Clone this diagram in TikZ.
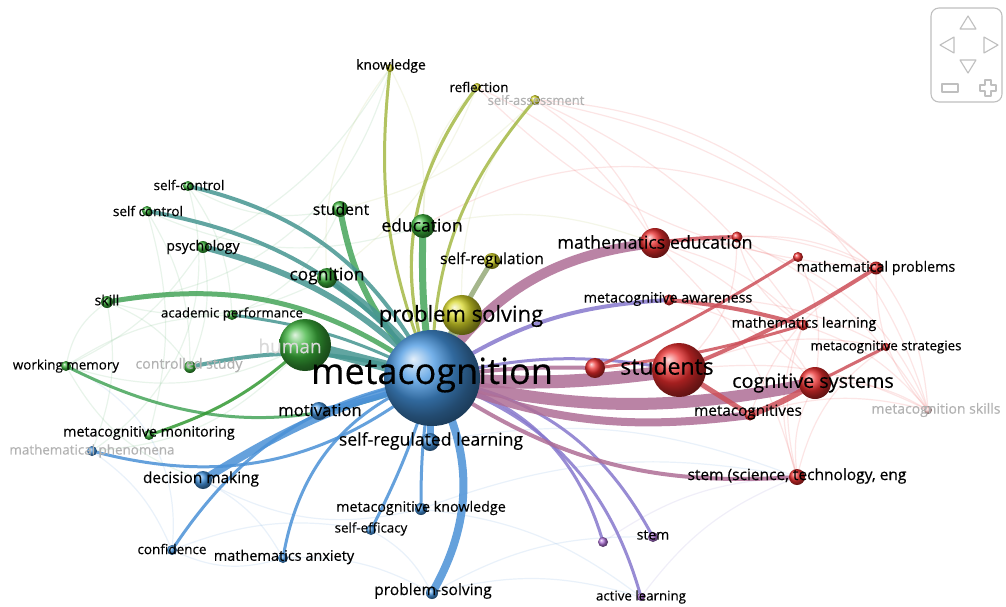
\documentclass[tikz,border=0pt]{standalone}
\usepackage{fontspec}
\setmainfont{Open Sans}[FakeBold=0.3]
\usetikzlibrary{calc}
\definecolor{cblue}{RGB}{70,150,225}
\definecolor{cgreen}{RGB}{60,180,60}
\definecolor{cyellow}{RGB}{215,215,40}
\definecolor{cred}{RGB}{235,45,45}
\definecolor{cpurple}{RGB}{175,115,215}
\definecolor{eteal}{RGB}{70,150,145}
\definecolor{egreen}{RGB}{70,165,90}
\definecolor{eolive}{RGB}{165,185,70}
\definecolor{eyb}{RGB}{150,170,120}
\definecolor{erp}{RGB}{175,110,150}
\definecolor{ebp}{RGB}{135,120,205}
\definecolor{ered}{RGB}{205,80,90}
\definecolor{eblue}{RGB}{75,145,215}
\pgfdeclarelayer{bottom}
\pgfdeclarelayer{faint}
\pgfdeclarelayer{edges}
\pgfsetlayers{bottom,faint,edges,main}
\tikzset{
  ball/.style={circle, inner sep=0pt, shading=ball, minimum size=#1},
  bb/.style={ball=#1, ball color=cblue},
  gb/.style={ball=#1, ball color=cgreen},
  yb/.style={ball=#1, ball color=cyellow},
  rb/.style={ball=#1, ball color=cred},
  pb/.style={ball=#1, ball color=cpurple},
  fb/.style={ball=#1, ball color=cred!25},
  lab/.style={inner sep=0pt, text=black, font=\fontsize{#1}{#1}\selectfont},
  flab/.style={lab=#1, text=black!30},
  ed/.style={line cap=round, opacity=0.85},
  fe/.style={line width=1.2pt, opacity=0.12},
}
\begin{document}
\begin{tikzpicture}[x=1pt,y=-1pt]
\useasboundingbox (0,0) rectangle (1006,606);
\begin{pgfonlayer}{bottom}
\fill[white] (0,0) rectangle (1006,606);
\end{pgfonlayer}

% ---------------- nodes ----------------
\node[bb=96] (M) at (432,378) {};
\node[yb=40] (ps) at (462,315) {};
\node[gb=52] (hu) at (305,345) {};
\node[rb=54] (st) at (679,370) {};
\node[rb=20] (sr) at (595,368) {};
\node[rb=32] (cs) at (815,383) {};
\node[rb=30] (me) at (655,243) {};
\node[rb=11] (me2) at (737,237) {};
\node[rb=13] (mp) at (876,268) {};
\node[rb=10] (mp2) at (798,257) {};
\node[rb=11] (ma) at (669,300) {};
\node[rb=11] (ml) at (803,325) {};
\node[rb=8] (mst) at (886,347) {};
\node[rb=11] (mcs) at (750,415) {};
\node[fb=8] (msk) at (928,410) {};
\node[rb=16] (stm) at (797,477) {};
\node[pb=10] (stem) at (653,537) {};
\node[pb=10] (pu) at (603,542) {};
\node[pb=8] (al) at (641,597) {};
\node[bb=12] (pso) at (432,593) {};
\node[bb=10] (se) at (371,530) {};
\node[bb=12] (mk) at (421,509) {};
\node[bb=18] (srl) at (430,442) {};
\node[bb=18] (mo) at (319,411) {};
\node[bb=18] (dm) at (203,480) {};
\node[bb=10] (co) at (172,550) {};
\node[bb=10] (man) at (283,558) {};
\node[gb=10] (mm) at (149,435) {};
\node[bb=10] (mph) at (92,451) {};
\node[gb=10] (wm) at (66,366) {};
\node[gb=12] (cst) at (190,367) {};
\node[gb=10] (ap) at (232,315) {};
\node[gb=12] (sk) at (107,302) {};
\node[gb=12] (psy) at (203,247) {};
\node[gb=10] (sc) at (147,211) {};
\node[gb=10] (sc2) at (188,186) {};
\node[gb=16] (stu) at (340,209) {};
\node[gb=20] (cog) at (327,278) {};
\node[gb=24] (edu) at (423,226) {};
\node[yb=16] (sreg) at (492,261) {};
\node[yb=8] (kn) at (390,68) {};
\node[yb=8] (re) at (477,87) {};
\node[yb=10] (sa) at (535,100) {};

% ---------------- faint background network ----------------
\begin{pgfonlayer}{faint}
\foreach \a/\b/\c in {me/mp/cred,me/ml/cred,me/cs/cred,mp/msk/cred,ml/msk/cred,cs/msk/cred,ma/cs/cred,me2/mp/cred,st/msk/cred,mp2/cs/cred,stm/cs/cred,stm/ml/cred,mcs/msk/cred,me/stm/cred,ma/mst/cred,sa/me/cred,re/me/cred,sa/mp/cred,edu/me/eolive,kn/edu/eolive,re/cog/eolive,sa/stu/eolive,kn/psy/egreen,sc2/ap/egreen,sc/cst/egreen,psy/cst/egreen,sk/cst/egreen,wm/ap/egreen,sk/mph/egreen,sc/mm/egreen,psy/wm/egreen,mph/co/eblue,dm/man/eblue,co/se/eblue,man/pso/eblue,se/pso/eblue,mk/al/eblue,pso/al/eblue,pso/stem/eblue,mk/stm/eblue,srl/stm/eblue,pu/stm/ebp,al/stm/ebp,st/mst/cred,sr/mcs/cred,me2/msk/cred,sa/ml/cred}
  \draw[fe,draw=\c] (\a) to[bend left=15] (\b);
\foreach \a/\b/\c in {sc2/stu/egreen,sc/edu/egreen,sk/cog/egreen,ap/stu/egreen,wm/hu/egreen,mph/hu/egreen,dm/mk/eblue,co/man/eblue,kn/cog/eolive,re/edu/eolive,sa/ps/eolive,me2/ml/cred,mp/mcs/cred,ml/stm/cred,mst/stm/cred,st/me2/cred,wm/dm/egreen,sk/wm/egreen,mp/msk/cred,re/mp/cred}
  \draw[fe,draw=\c] (\a) to[bend right=20] (\b);
\foreach \a/\b/\c in {sa/msk/cred,me/msk/cred,edu/mp/cred,sc2/mph/egreen,kn/sk/egreen,wm/co/eblue}
  \draw[fe,draw=\c] (\a) to[bend left=35] (\b);
\end{pgfonlayer}

% ---------------- edges ----------------
\begin{pgfonlayer}{edges}
\draw[ed,eolive,line width=3] (M.center) to[bend left=14] (kn.center);
\draw[ed,eolive,line width=3.2] (M.center) to[bend left=28] (re.center);
\draw[ed,eolive,line width=3] (M.center) to[bend left=20] (sa.center);
\draw[ed,egreen,line width=7] (M.center) to[bend left=5] (edu.center);
\draw[ed,egreen,line width=6] (M.center) to[bend left=18] (stu.center);
\draw[ed,eteal,line width=8] (M.center) to[bend right=10] (cog.center);
\draw[ed,eteal,line width=4] (M.center) to[bend right=25] (sc2.center);
\draw[ed,eteal,line width=4] (M.center) to[bend right=20] (sc.center);
\draw[ed,eteal,line width=6] (M.center) to[bend right=15] (psy.center);
\draw[ed,egreen,line width=5] (M.center) to[bend right=23] (sk.center);
\draw[ed,eteal,line width=3] (M.center) to[bend right=10] (ap.center);
\draw[ed,eteal,line width=11] (M.center) to (hu.center);
\draw[ed,eteal,line width=4] (M.center) to[bend right=15] (cst.center);
\draw[ed,egreen,line width=3] (M.center) to[bend left=25] (wm.center);
\draw[ed,cgreen!85!black,line width=3] (hu.center) to[bend left=12] (mm.center);
\draw[ed,eblue,line width=3] (M.center) to[bend left=27] (mph.center);
\draw[ed,eblue,line width=8] (M.center) to[bend right=8] (dm.center);
\draw[ed,eblue,line width=3] (M.center) to[bend right=23] (co.center);
\draw[ed,eblue,line width=3] (M.center) to[bend right=30] (man.center);
\draw[ed,eblue,line width=6] (M.center) to[bend left=5] (mo.center);
\draw[ed,eblue,line width=7] (M.center) to (srl.center);
\draw[ed,eblue,line width=3] (M.center) to[bend right=5] (mk.center);
\draw[ed,eblue,line width=3] (M.center) to[bend left=5] (se.center);
\draw[ed,eblue,line width=8] (M.center) to[bend left=30] (pso.center);
\draw[ed,ebp,line width=3] (M.center) to[bend left=30] (pu.center);
\draw[ed,ebp,line width=3] (M.center) to[bend left=28] (al.center);
\draw[ed,ebp,line width=3] (M.center) to[bend left=26] (stem.center);
\draw[ed,erp,line width=4] (M.center) to[bend right=19] (stm.center);
\draw[ed,erp,line width=8] (M.center) to[bend right=14] (mcs.center);
\draw[ed,erp,line width=12] (M.center) to[bend right=12] (cs.center);
\draw[ed,erp,line width=13] (M.center) to[bend right=6] (st.center);
\draw[ed,ebp,line width=3] (M.center) to[bend left=12] (st.center);
\draw[ed,erp,line width=4] (M.center) to[bend left=5] (sr.center);
\draw[ed,ebp,line width=4] (M.center) to[bend left=15] (ma.center);
\draw[ed,erp,line width=10] (M.center) to[bend left=25] (me.center);
\draw[ed,eyb,line width=5] (M.center) to[bend left=5] (sreg.center);
\draw[ed,eyb,line width=10] (M.center) to (ps.center);
\draw[ed,ered,line width=4] (ma.center) to[bend left=5] (ml.center);
\draw[ed,ered,line width=4] (me.center) to[bend left=3] (me2.center);
\draw[ed,ered,line width=3] (sr.center) to[bend right=3] (mp2.center);
\draw[ed,ered,line width=4] (st.center) to[bend right=5] (mp.center);
\draw[ed,ered,line width=5] (st.center) to (mcs.center);
\draw[ed,ered,line width=6] (mcs.center) to[bend right=5] (cs.center);
\draw[ed,ered,line width=3] (cs.center) to (mst.center);
\draw[ed,ered,line width=3] (sr.center) to[bend right=5] (ml.center);
\end{pgfonlayer}

% ---------------- labels ----------------
\node[lab=36] (l-M) at (432,375) {metacognition};
\node[lab=22] (l-ps) at (461,316) {problem solving};
\node[flab=19, text=black!15] (l-hu) at (290,346) {human};
\node[lab=23] (l-st) at (667,366) {students};
\node[lab=19.7] (l-cs) at (813,383) {cognitive systems};
\node[lab=17.8] (l-me) at (655,242) {mathematics education};
\node[lab=14.3] (l-mp) at (876,268) {mathematical problems};
\node[lab=14.3] (l-ma) at (668,299) {metacognitive awareness};
\node[lab=14.3] (l-ml) at (804,324) {mathematics learning};
\node[lab=13.3] (l-mst) at (886,347) {metacognitive strategies};
\node[lab=15.3] (l-mcs) at (748,412) {metacognitives};
\node[flab=14] (l-msk) at (936,410) {metacognition skills};
\node[lab=15.5] (l-stm) at (797,476) {stem (science, technology, eng};
\node[lab=14] (l-stem) at (653,535) {stem};
\node[lab=13.3] (l-al) at (641,597) {active learning};
\node[lab=15.6] (l-pso) at (433,591) {problem-solving};
\node[lab=13.3] (l-se) at (371,529) {self-efficacy};
\node[lab=14.3] (l-mk) at (421,508) {metacognitive knowledge};
\node[lab=17.6] (l-srl) at (431,441) {self-regulated learning};
\node[lab=16.6] (l-mo) at (320,410) {motivation};
\node[lab=15.4] (l-dm) at (201,479) {decision making};
\node[lab=13.5] (l-co) at (172,549) {confidence};
\node[lab=14.5] (l-man) at (284,557) {mathematics anxiety};
\node[lab=14.3] (l-mm) at (149,433) {metacognitive monitoring};
\node[flab=13.4] (l-mph) at (92,451) {mathematical phenomena};
\node[lab=13.4] (l-wm) at (66,366) {working memory};
\node[flab=14.2] (l-cst) at (189,365) {controlled study};
\node[lab=13.2] (l-ap) at (232,314) {academic performance};
\node[lab=14] (l-sk) at (107,300) {skill};
\node[lab=14.1] (l-psy) at (203,247) {psychology};
\node[lab=13.5] (l-sc) at (148,211) {self control};
\node[lab=13.5] (l-sc2) at (189,185) {self-control};
\node[lab=15.7] (l-stu) at (341,209) {student};
\node[lab=17.4] (l-cog) at (327,276) {cognition};
\node[lab=17.5] (l-edu) at (422,225) {education};
\node[lab=15.5] (l-sreg) at (492,260) {self-regulation};
\node[lab=13.8] (l-kn) at (391,66) {knowledge};
\node[lab=13.4] (l-re) at (479,87) {reflection};
\node[flab=13] (l-sa) at (536,100) {self-assessment};

% ---------------- navigation widget ----------------
\begin{scope}[draw=black!25, line width=1.1pt, line join=round]
\draw[rounded corners=8] (931,8) rectangle (1002,102);
\draw (968,16) -- (960,29) -- (976,29) -- cycle;
\draw (940,45) -- (954,37) -- (954,53) -- cycle;
\draw (998,45) -- (984,37) -- (984,53) -- cycle;
\draw (968,73) -- (960,60) -- (976,60) -- cycle;
\draw (942,84) rectangle (958,92);
\draw (985,80) -- (991,80) -- (991,85) -- (996,85) -- (996,91) -- (991,91) -- (991,96) -- (985,96) -- (985,91) -- (980,91) -- (980,85) -- (985,85) -- cycle;
\end{scope}
\end{tikzpicture}
\end{document}
